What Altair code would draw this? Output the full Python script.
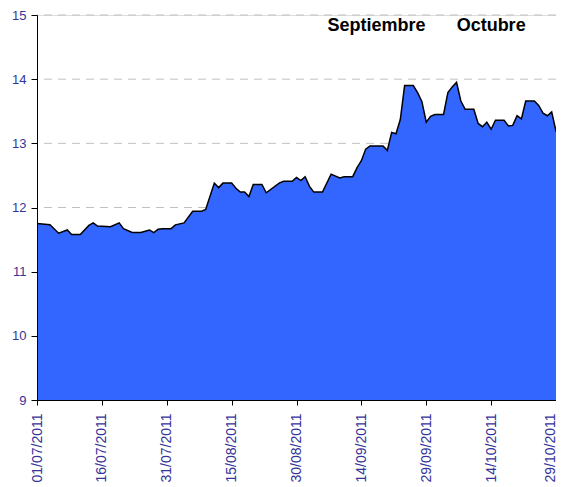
import altair as alt
import pandas as pd

dates = [
    "2011-07-01", "2011-07-04", "2011-07-06", "2011-07-08", "2011-07-09", "2011-07-11",
    "2011-07-13", "2011-07-14", "2011-07-15", "2011-07-18", "2011-07-20", "2011-07-21",
    "2011-07-23", "2011-07-25", "2011-07-27", "2011-07-28", "2011-07-29", "2011-07-30",
    "2011-08-01", "2011-08-02", "2011-08-04", "2011-08-06", "2011-08-08", "2011-08-09",
    "2011-08-11", "2011-08-12", "2011-08-13", "2011-08-15", "2011-08-16", "2011-08-17",
    "2011-08-18", "2011-08-19", "2011-08-20", "2011-08-22", "2011-08-23", "2011-08-26",
    "2011-08-27", "2011-08-29", "2011-08-30", "2011-08-31", "2011-09-01", "2011-09-02",
    "2011-09-03", "2011-09-05", "2011-09-07", "2011-09-09", "2011-09-10", "2011-09-12",
    "2011-09-13", "2011-09-14", "2011-09-15", "2011-09-16", "2011-09-19", "2011-09-20",
    "2011-09-21", "2011-09-22", "2011-09-23", "2011-09-24", "2011-09-26", "2011-09-27",
    "2011-09-28", "2011-09-29", "2011-09-30", "2011-10-01", "2011-10-03", "2011-10-04",
    "2011-10-05", "2011-10-06", "2011-10-07", "2011-10-08", "2011-10-10", "2011-10-11",
    "2011-10-12", "2011-10-13", "2011-10-14", "2011-10-15", "2011-10-17", "2011-10-18",
    "2011-10-19", "2011-10-20", "2011-10-21", "2011-10-22", "2011-10-24", "2011-10-25",
    "2011-10-26", "2011-10-27", "2011-10-28", "2011-10-29", "2011-10-31",
]
values = [
    11.75, 11.73, 11.60, 11.65, 11.58, 11.58,
    11.72, 11.76, 11.71, 11.70, 11.76, 11.67,
    11.61, 11.61, 11.65, 11.61, 11.66, 11.67,
    11.67, 11.73, 11.76, 11.94, 11.94, 11.97,
    12.38, 12.31, 12.38, 12.38, 12.30, 12.24,
    12.24, 12.17, 12.36, 12.36, 12.23, 12.38,
    12.41, 12.41, 12.47, 12.42, 12.48, 12.33,
    12.24, 12.24, 12.52, 12.46, 12.48, 12.48,
    12.62, 12.73, 12.91, 12.96, 12.96, 12.89,
    13.17, 13.15, 13.37, 13.90, 13.90, 13.79,
    13.65, 13.33, 13.42, 13.45, 13.45, 13.79,
    13.88, 13.95, 13.66, 13.53, 13.53, 13.31,
    13.26, 13.33, 13.22, 13.36, 13.36, 13.27,
    13.28, 13.43, 13.38, 13.66, 13.66, 13.59,
    13.47, 13.43, 13.49, 13.19, 13.19,
]

tick_dates = ["2011-07-01", "2011-07-16", "2011-07-31", "2011-08-15", "2011-08-30",
              "2011-09-14", "2011-09-29", "2011-10-14", "2011-10-29"]
y_ticks = [9, 10, 11, 12, 13, 14, 15]
grid_values = [10, 11, 12, 13, 14, 15]

label_texts = ["Septiembre", "Octubre"]
label_dates = ["2011-09-17T12:00:00", "2011-10-14T00:00:00"]
label_y = [14.83, 14.83]

df = pd.DataFrame({"date": [d + "T00:00:00" for d in dates], "value": values})
grid_df = pd.DataFrame({"g": grid_values})
lab_df = pd.DataFrame({"text": label_texts, "date": label_dates, "y": label_y})

FONT = "Liberation Sans"
LABEL_COLOR = "#333399"

x_scale = alt.Scale(domain=[alt.DateTime(year=2011, month=7, date=1),
                            alt.DateTime(year=2011, month=10, date=29)])
y_scale = alt.Scale(domain=[9, 15], nice=False, zero=False)

x_axis = alt.Axis(
    values=[alt.DateTime(year=int(t[:4]), month=int(t[5:7]), date=int(t[8:10])) for t in tick_dates],
    format="%d/%m/%Y", labelAngle=270, labelAlign="right", labelBaseline="middle",
    labelFont=FONT, labelFontSize=14, labelFlush=False, labelOverlap=False,
    labelOffset={"condition": {"test": "datum.value > datetime(2011, 9, 20)", "value": -6}, "value": 0},
    labelColor=LABEL_COLOR, grid=False, domainColor="black", domainWidth=1,
    tickColor="black", tickSize=5, labelPadding=8, title=None, zindex=1,
)
y_axis = alt.Axis(
    values=y_ticks, format="d", labelFont=FONT, labelFontSize=13, labelColor=LABEL_COLOR,
    labelFlush=False, grid=False, domainColor="black", domainWidth=1, tickColor="black",
    tickSize=6, labelPadding=5, title=None, zindex=1,
)

grid = alt.Chart(grid_df).mark_rule(color="#C0C0C0", strokeDash=[8, 6], strokeWidth=1).encode(
    y=alt.Y("g:Q", scale=y_scale, axis=y_axis)
)

area = alt.Chart(df).mark_area(color="#3366FF", opacity=1, clip=True).encode(
    x=alt.X("date:T", scale=x_scale, axis=x_axis),
    y=alt.Y("value:Q", scale=y_scale, axis=y_axis),
)
line = alt.Chart(df).mark_line(color="black", strokeWidth=1.5, clip=True).encode(
    x=alt.X("date:T", scale=x_scale),
    y=alt.Y("value:Q", scale=y_scale),
)
texts = alt.Chart(lab_df).mark_text(
    font=FONT, fontSize=18, fontWeight="bold", color="black", align="center", baseline="middle"
).encode(
    x=alt.X("date:T", scale=x_scale),
    y=alt.Y("y:Q", scale=y_scale),
    text="text:N",
)

chart = alt.layer(grid, area, line, texts).properties(
    width=519, height=385,
    autosize=alt.AutoSizeParams(type="none"),
    padding={"left": 29, "top": 7, "right": 0, "bottom": 86},
).configure_view(stroke=None).configure(background="white")

chart.save("out.html", embed_options={"renderer": "svg", "actions": False})
